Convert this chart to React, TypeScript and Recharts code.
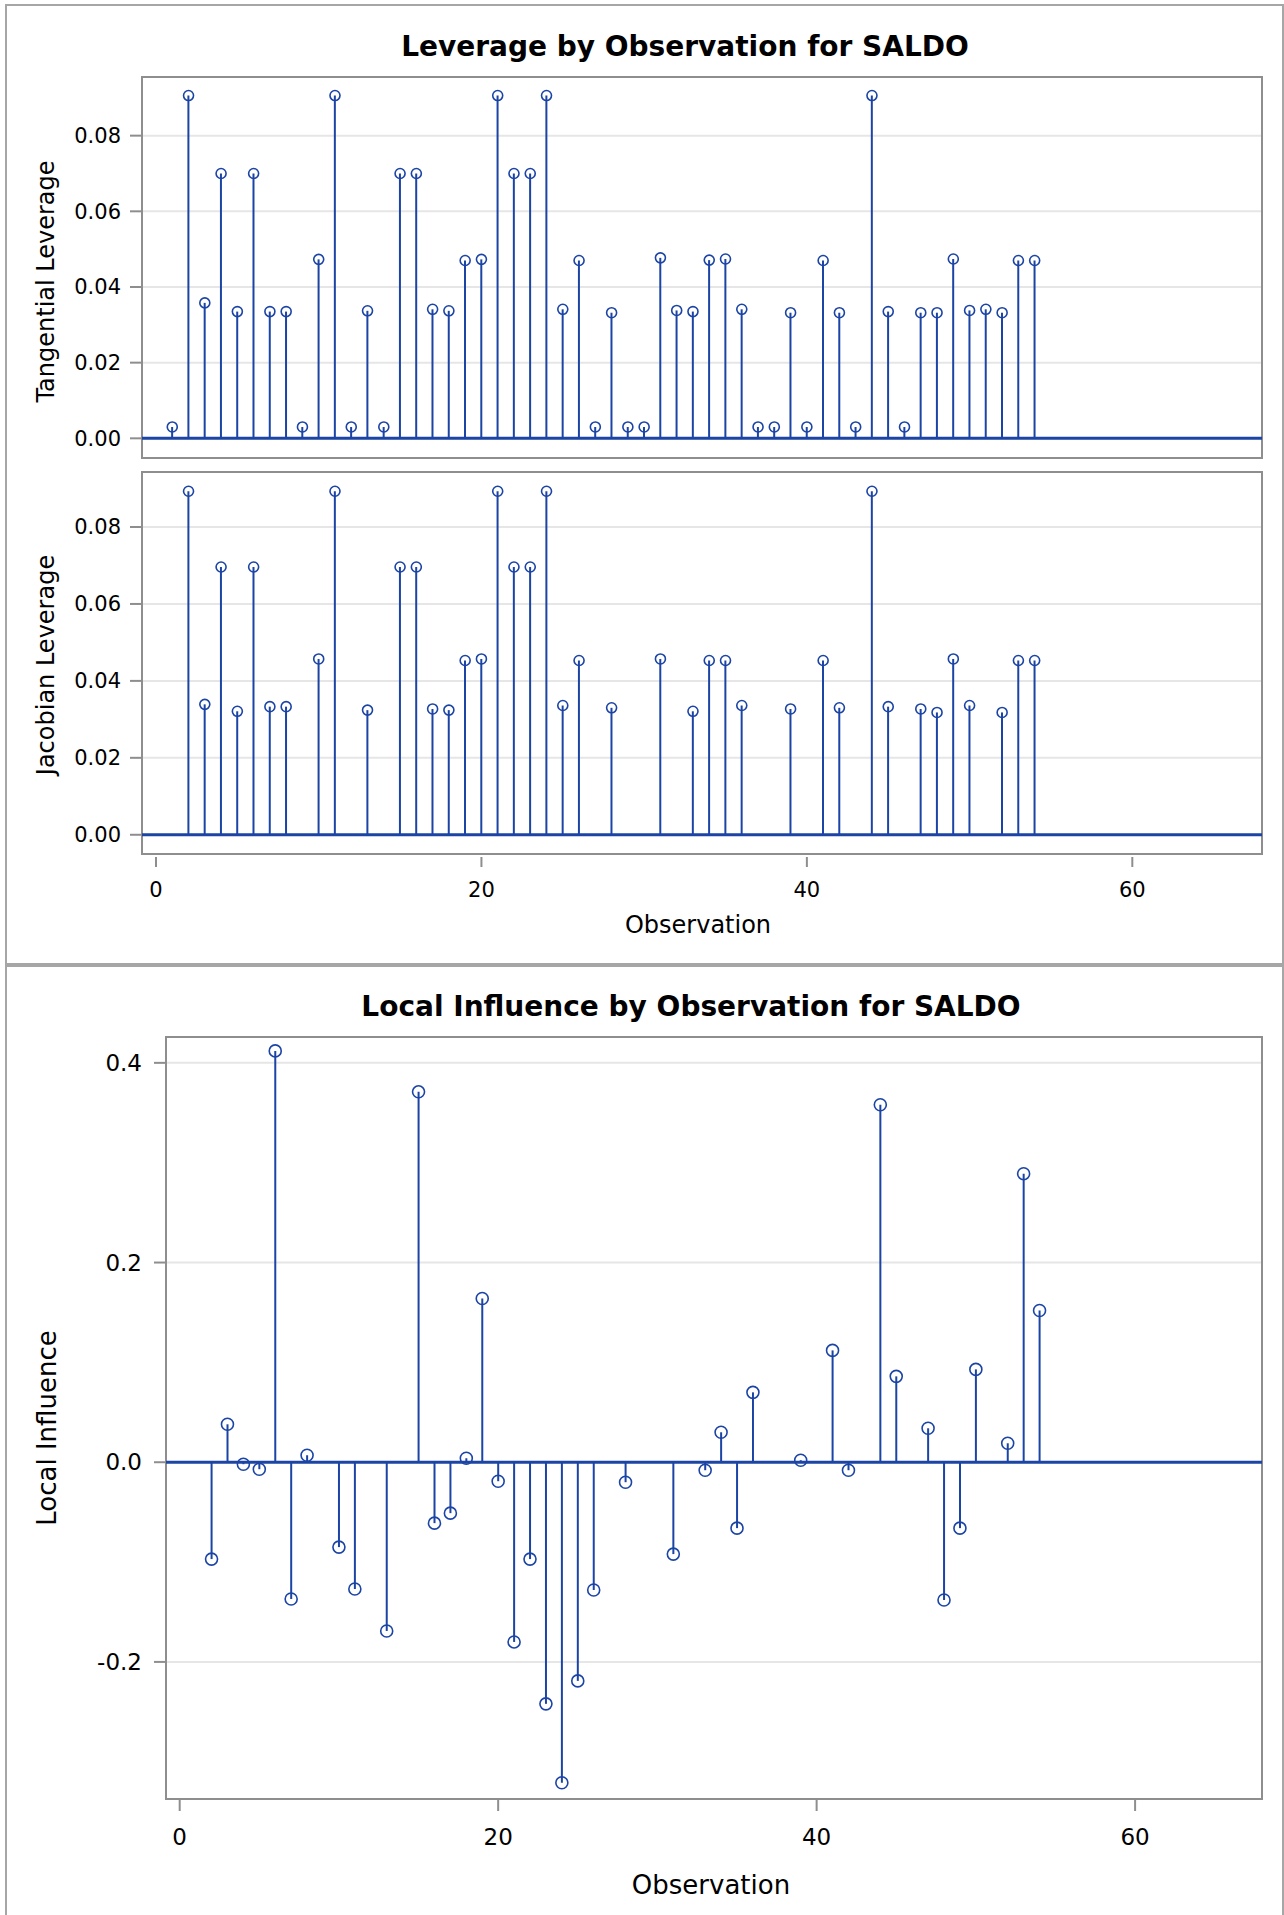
import React from 'react';
import {
  ComposedChart,
  Bar,
  Scatter,
  XAxis,
  YAxis,
  CartesianGrid,
  ReferenceLine,
  ReferenceArea,
} from 'recharts';

// observation numbers (1..54)
const OBSERVATIONS = [
  1, 2, 3, 4, 5, 6, 7, 8, 9, 10, 11, 12, 13, 14, 15, 16, 17, 18,
  19, 20, 21, 22, 23, 24, 25, 26, 27, 28, 29, 30, 31, 32, 33, 34, 35, 36,
  37, 38, 39, 40, 41, 42, 43, 44, 45, 46, 47, 48, 49, 50, 51, 52, 53, 54,
];

const TANGENTIAL = [
  0.003, 0.0906, 0.0358, 0.07, 0.0335, 0.07, 0.0335, 0.0335, 0.003, 0.0473,
  0.0906, 0.003, 0.0337, 0.003, 0.07, 0.07, 0.0341, 0.0337, 0.047, 0.0473,
  0.0906, 0.07, 0.07, 0.0906, 0.0341, 0.047, 0.003, 0.0332, 0.003, 0.003,
  0.0477, 0.0338, 0.0335, 0.0471, 0.0474, 0.0341, 0.003, 0.003, 0.0332, 0.003,
  0.047, 0.0332, 0.003, 0.0906, 0.0335, 0.003, 0.0332, 0.0332, 0.0474, 0.0338,
  0.0341, 0.0332, 0.047, 0.047,
];

// null = observation not plotted
const JACOBIAN = [
  null, 0.0893, 0.0339, 0.0696, 0.0321, 0.0696, 0.0333, 0.0333, null, 0.0457,
  0.0893, null, 0.0324, null, 0.0696, 0.0696, 0.0327, 0.0324, 0.0453, 0.0457,
  0.0893, 0.0696, 0.0696, 0.0893, 0.0336, 0.0453, null, 0.033, null, null,
  0.0457, null, 0.0321, 0.0453, 0.0453, 0.0336, null, null, 0.0327, null,
  0.0453, 0.033, null, 0.0893, 0.0333, null, 0.0327, 0.0318, 0.0457, 0.0336,
  null, 0.0318, 0.0453, 0.0453,
];

const LOCAL_INFLUENCE = [
  null, -0.097, 0.038, -0.002, -0.007, 0.412, -0.137, 0.007, null, -0.085,
  -0.127, null, -0.169, null, 0.371, -0.061, -0.051, 0.004, 0.164, -0.019,
  -0.18, -0.097, -0.242, -0.321, -0.219, -0.128, null, -0.02, null, null,
  -0.092, null, -0.008, 0.03, -0.066, 0.07, null, null, 0.002, null,
  0.112, -0.008, null, 0.358, 0.086, null, 0.034, -0.138, -0.066, 0.093,
  null, 0.019, 0.289, 0.152,
];

const LEVERAGE_TICKS = [0, 0.02, 0.04, 0.06, 0.08];
const INFLUENCE_TICKS = [-0.2, 0, 0.2, 0.4];
const OBS_TICKS = [0, 20, 40, 60];

const BLUE = '#1b44a5';
const FRAME = '#8e8e8e';
const GRID = '#e6e6e6';
const BORDER = '#a6a6a6';
const FONT = '"DejaVu Sans", sans-serif';
const X_DOMAIN: [number, number] = [-0.86, 67.97];

const toRows = (values: (number | null)[]) =>
  OBSERVATIONS.map((obs, i) => ({ obs, val: values[i] })).filter((r) => r.val !== null);

const makeXTick = (gap: number, len: number, textOffset: number, fontSize: number) => (props: any) => {
  const { x, y, payload } = props;
  return (
    <g>
      <line x1={x} x2={x} y1={y + gap} y2={y + gap + len} stroke={FRAME} strokeWidth={2} />
      <text
        x={x}
        y={y + textOffset}
        textAnchor="middle"
        dominantBaseline="central"
        fontSize={fontSize}
        fontFamily={FONT}
        fill="#000"
      >
        {payload.value}
      </text>
    </g>
  );
};

const makeYLabel = (text: string, fontSize: number, cx: number, dy: number) => (props: any) => {
  const vb = props.viewBox;
  const cy = vb.y + vb.height / 2 + dy;
  return (
    <text
      x={cx}
      y={cy}
      transform={`rotate(-90 ${cx} ${cy})`}
      textAnchor="middle"
      dominantBaseline="central"
      fontSize={fontSize}
      fontFamily={FONT}
      fill="#000"
    >
      {text}
    </text>
  );
};

const makeXLabel = (text: string, fontSize: number, offset: number, dx: number) => (props: any) => {
  const vb = props.viewBox;
  return (
    <text
      x={vb.x + vb.width / 2 + dx}
      y={vb.y + offset}
      textAnchor="middle"
      dominantBaseline="central"
      fontSize={fontSize}
      fontFamily={FONT}
      fill="#000"
    >
      {text}
    </text>
  );
};

type PanelProps = {
  values: (number | null)[];
  height: number;
  margin: { top: number; right: number; bottom: number; left: number };
  yDomain: [number, number];
  yTicks: number[];
  digits: number;
  yAxisWidth: number;
  yLabel: string;
  yLabelX: number;
  yLabelDy: number;
  tickFont: number;
  labelFont: number;
  yTickMargin: number;
  radius: number;
  showX: boolean;
  xAxisHeight?: number;
  xTickGap?: number;
  xTickLen?: number;
  xTextOffset?: number;
  xLabelOffset?: number;
  xLabelDx?: number;
};

function StemPanel(p: PanelProps) {
  const rows = toRows(p.values);
  const circle = (props: any) => (
    <circle cx={props.cx} cy={props.cy} r={p.radius} fill="none" stroke={BLUE} strokeWidth={1.6} />
  );
  return (
    <ComposedChart width={1284} height={p.height} data={rows} margin={p.margin}>
      <CartesianGrid vertical={false} stroke={GRID} strokeWidth={2} />
      <XAxis
        type="number"
        dataKey="obs"
        domain={X_DOMAIN}
        allowDataOverflow
        ticks={OBS_TICKS}
        interval={0}
        hide={!p.showX}
        height={p.xAxisHeight ?? 0}
        axisLine={false}
        tickLine={false}
        tickSize={0}
        tickMargin={0}
        tick={makeXTick(p.xTickGap ?? 0, p.xTickLen ?? 0, p.xTextOffset ?? 0, p.tickFont)}
        label={p.showX ? { content: makeXLabel('Observation', p.labelFont, p.xLabelOffset ?? 0, p.xLabelDx ?? 0) } : undefined}
      />
      <YAxis
        type="number"
        domain={p.yDomain}
        allowDataOverflow
        ticks={p.yTicks}
        interval={0}
        width={p.yAxisWidth}
        axisLine={false}
        tickLine={{ stroke: FRAME, strokeWidth: 2 }}
        tickSize={12}
        tickMargin={p.yTickMargin}
        tick={{ fontSize: p.tickFont, fill: '#000', fontFamily: FONT }}
        tickFormatter={(v: number) => v.toFixed(p.digits)}
        label={{ content: makeYLabel(p.yLabel, p.labelFont, p.yLabelX, p.yLabelDy) }}
      />
      <ReferenceLine y={0} stroke={BLUE} strokeWidth={3} />
      <Bar dataKey="val" barSize={2} fill={BLUE} isAnimationActive={false} />
      <Scatter dataKey="val" shape={circle} isAnimationActive={false} />
      <ReferenceArea
        x1={X_DOMAIN[0]}
        x2={X_DOMAIN[1]}
        y1={p.yDomain[0]}
        y2={p.yDomain[1]}
        fill="none"
        stroke={FRAME}
        strokeWidth={2}
      />
    </ComposedChart>
  );
}

const titleStyle = (cx: number, cy: number): React.CSSProperties => ({
  position: 'absolute',
  left: cx - 500,
  top: cy - 20,
  width: 1000,
  height: 40,
  lineHeight: '40px',
  textAlign: 'center',
  fontSize: 28,
  fontWeight: 'bold',
  fontFamily: FONT,
  color: '#000',
});

export default function App() {
  return (
    <div
      style={{
        position: 'absolute',
        left: 0,
        top: 0,
        width: 1284,
        height: 1915,
        background: '#fff',
        overflow: 'hidden',
      }}
    >
      {/* figure borders */}
      <div
        style={{
          position: 'absolute',
          left: 5,
          top: 4,
          width: 1279,
          height: 961,
          boxSizing: 'border-box',
          border: `2px solid ${BORDER}`,
        }}
      />
      <div
        style={{
          position: 'absolute',
          left: 5,
          top: 965,
          width: 1279,
          height: 960,
          boxSizing: 'border-box',
          border: `2px solid ${BORDER}`,
        }}
      />

      <div style={titleStyle(685, 47)}>Leverage by Observation for SALDO</div>
      <div style={{ position: 'absolute', left: 0, top: 0 }}>
        <StemPanel
          values={TANGENTIAL}
          height={466}
          margin={{ top: 77, right: 22, bottom: 8, left: 0 }}
          yDomain={[-0.0052, 0.0955]}
          yTicks={LEVERAGE_TICKS}
          digits={2}
          yAxisWidth={142}
          yLabel="Tangential Leverage"
          yLabelX={46}
          yLabelDy={14}
          tickFont={21}
          labelFont={24}
          yTickMargin={9}
          radius={5}
          showX={false}
        />
      </div>
      <div style={{ position: 'absolute', left: 0, top: 465 }}>
        <StemPanel
          values={JACOBIAN}
          height={495}
          margin={{ top: 7, right: 22, bottom: 0, left: 0 }}
          yDomain={[-0.005, 0.0943]}
          yTicks={LEVERAGE_TICKS}
          digits={2}
          yAxisWidth={142}
          yLabel="Jacobian Leverage"
          yLabelX={46}
          yLabelDy={2}
          tickFont={21}
          labelFont={24}
          yTickMargin={9}
          radius={5}
          showX
          xAxisHeight={106}
          xTickGap={3}
          xTickLen={10}
          xTextOffset={36}
          xLabelOffset={71}
          xLabelDx={-4}
        />
      </div>

      <div style={titleStyle(691, 1007)}>Local Influence by Observation for SALDO</div>
      <div style={{ position: 'absolute', left: 0, top: 966 }}>
        <StemPanel
          values={LOCAL_INFLUENCE}
          height={949}
          margin={{ top: 71, right: 22, bottom: 0, left: 0 }}
          yDomain={[-0.3373, 0.4259]}
          yTicks={INFLUENCE_TICKS}
          digits={1}
          yAxisWidth={166}
          yLabel="Local Influence"
          yLabelX={47}
          yLabelDy={10}
          tickFont={23}
          labelFont={26}
          yTickMargin={12}
          radius={6}
          showX
          xAxisHeight={116}
          xTickGap={1}
          xTickLen={11}
          xTextOffset={38}
          xLabelOffset={86}
          xLabelDx={-3}
        />
      </div>
    </div>
  );
}
